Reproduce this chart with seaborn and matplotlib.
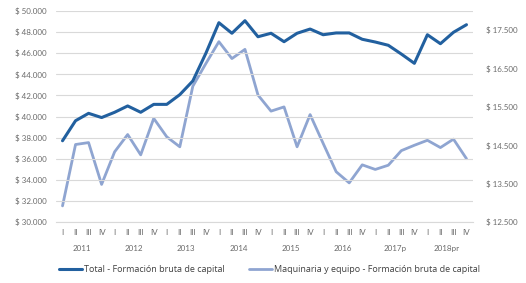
import numpy as np
import pandas as pd
import seaborn as sns
import matplotlib.pyplot as plt
from matplotlib.ticker import FuncFormatter, FixedLocator
import matplotlib.transforms as mtransforms

years = ["2011", "2012", "2013", "2014", "2015", "2016", "2017p", "2018pr"]
quarters = ["I", "II", "III", "IV"]

total = [37700, 39600, 40300, 39900, 40400, 41000, 40400, 41150,
         41150, 42070, 43370, 45990, 48890, 47890, 49080, 47560,
         47890, 47090, 47890, 48290, 47750, 47920, 47920, 47320,
         47060, 46750, 45920, 45040, 47750, 46900, 47980, 48700]

maquinaria = [12920, 14520, 14570, 13480, 14330, 14780, 14250, 15200,
              14720, 14460, 16040, 16630, 17200, 16760, 17000, 15810,
              15390, 15500, 14460, 15300, 14550, 13810, 13520, 13990,
              13870, 13980, 14360, 14500, 14630, 14440, 14660, 14150]

label_total = "Total - Formación bruta de capital"
label_maq = "Maquinaria y equipo - Formación bruta de capital"

DARK = "#22609F"
LIGHT = "#8FA5D1"
GRAY_TXT = "#6A6A6A"
GRID = "#D9D9D9"


def money(v, pos=None):
    return "$ " + f"{v:,.0f}".replace(",", ".")


def main():
    sns.set_theme(style="white")
    plt.rcParams["font.family"] = ["Lato", "DejaVu Sans"]

    df = pd.DataFrame({
        "pos": np.arange(len(total)),
        "total": total,
        "maquinaria": maquinaria,
    })

    fig = plt.figure(figsize=(5.26, 2.83), dpi=100)
    ax = fig.add_axes([56 / 526, 1 - 222 / 283, 417 / 526, 211 / 283])
    ax2 = ax.twinx()

    sns.lineplot(data=df, x="pos", y="total", ax=ax, color=DARK,
                 linewidth=2.2, label=label_total, legend=False, zorder=4)
    sns.lineplot(data=df, x="pos", y="maquinaria", ax=ax2, color=LIGHT,
                 linewidth=2.0, label=label_maq, legend=False, zorder=3)
    ax.set_zorder(ax2.get_zorder() + 1)
    ax.patch.set_visible(False)

    ax.set_xlim(-0.5, len(total) - 0.5)
    ax.set_ylim(30000, 50000)
    ax.set_yticks(np.arange(30000, 50001, 2000))
    ax.yaxis.set_major_formatter(FuncFormatter(money))
    ax2.set_ylim(12500, 18000)
    ax2.set_yticks(np.arange(12500, 17501, 1000))
    ax2.yaxis.set_major_formatter(FuncFormatter(money))

    ax.grid(axis="y", color=GRID, linewidth=0.8)
    ax.grid(axis="x", visible=False)
    for a in (ax, ax2):
        for s in a.spines.values():
            s.set_visible(False)
        a.set_xlabel("")
        a.set_ylabel("")
    ax.spines["bottom"].set_visible(True)
    ax.spines["bottom"].set_color(GRID)
    ax.spines["bottom"].set_linewidth(0.8)

    ax.tick_params(axis="y", length=0, pad=7, labelsize=5.8, labelcolor=GRAY_TXT)
    ax2.tick_params(axis="y", length=0, pad=9, labelsize=5.8, labelcolor=GRAY_TXT)

    # quarter labels + year separators
    ax.set_xticks(np.arange(len(total)))
    ax.set_xticklabels(quarters * len(years))
    ax.tick_params(axis="x", which="major", length=0, pad=5, labelsize=5.8,
                   labelcolor=GRAY_TXT)
    ax.xaxis.set_minor_locator(FixedLocator(np.arange(-0.5, len(total), 4)))
    ax.tick_params(axis="x", which="minor", length=22, width=0.8, color=GRID,
                   direction="out")

    trans = mtransforms.blended_transform_factory(ax.transData, ax.transAxes)
    for i, yr in enumerate(years):
        ax.text(i * 4 + 1.5, -0.125, yr, transform=trans, ha="center",
                va="center", fontsize=5.8, color=GRAY_TXT)

    handles = ax.get_lines()[:1] + ax2.get_lines()[:1]
    fig.legend(handles, [label_total, label_maq], loc="center",
               bbox_to_anchor=(269.5 / 526, 1 - 270 / 283), ncol=2,
               frameon=False, handlelength=2.6,
               handletextpad=0.25, columnspacing=2.6,
               prop={"family": ["Open Sans", "DejaVu Sans"], "size": 6.5})
    for t in fig.legends[0].get_texts():
        t.set_color("#404040")

    fig.savefig("out.png", dpi=100)


if __name__ == "__main__":
    main()
